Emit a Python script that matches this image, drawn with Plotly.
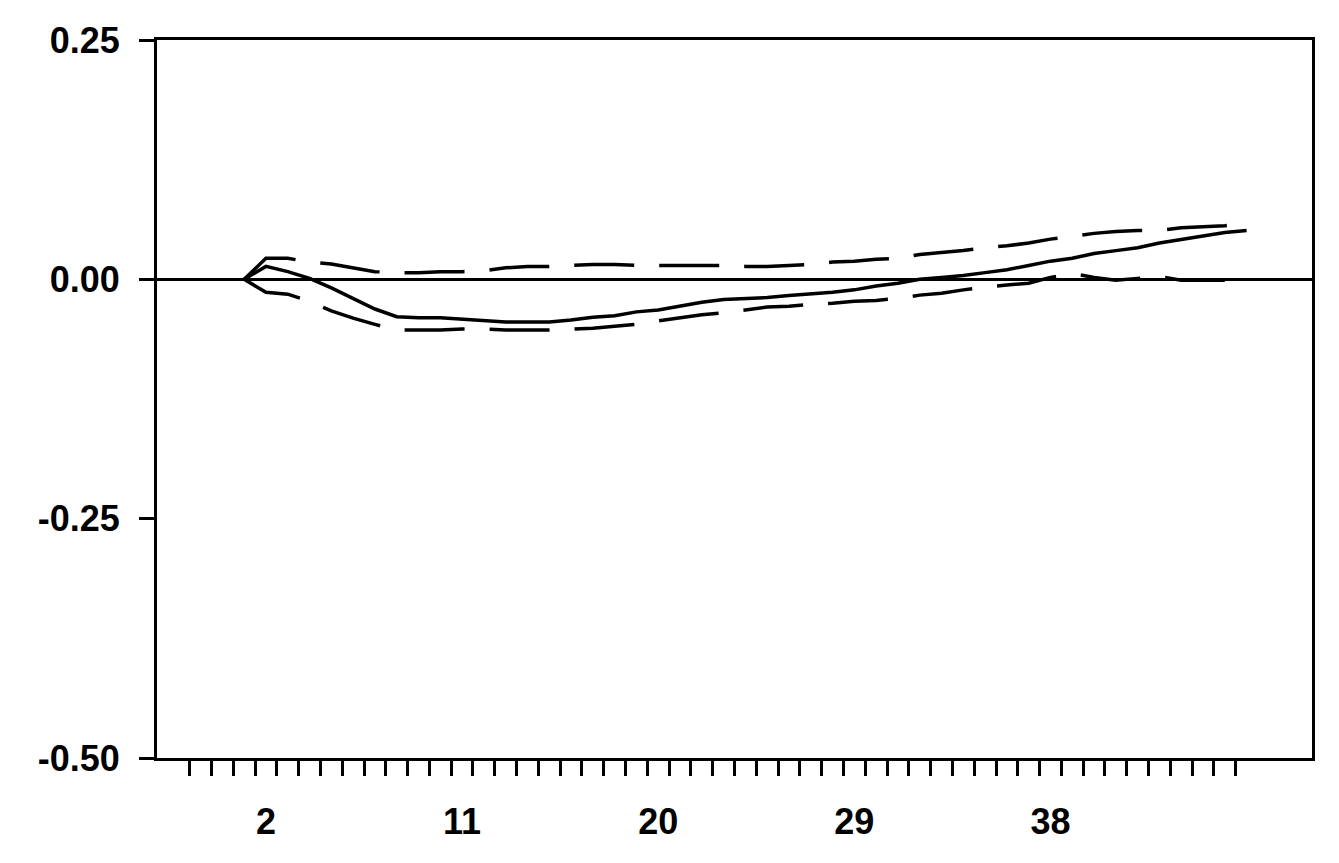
import plotly.graph_objects as go

periods = list(range(1, 48))

upper = [0.000, 0.022, 0.022, 0.018, 0.016, 0.012, 0.008, 0.007, 0.007, 0.008,
         0.008, 0.009, 0.012, 0.0135, 0.0135, 0.0145, 0.0155, 0.0155, 0.0145, 0.0145,
         0.0145, 0.0145, 0.0145, 0.0135, 0.0135, 0.0145, 0.0155, 0.018, 0.019, 0.021,
         0.022, 0.026, 0.028, 0.030, 0.033, 0.035, 0.038, 0.042, 0.045, 0.048,
         0.050, 0.051, 0.051, 0.054, 0.055, 0.056, 0.058]

response = [0.000, 0.0135, 0.008, 0.001, -0.009, -0.020, -0.031, -0.039, -0.040, -0.040,
            -0.0415, -0.0425, -0.0445, -0.0445, -0.0445, -0.0425, -0.0395, -0.038, -0.034, -0.032,
            -0.028, -0.024, -0.021, -0.020, -0.019, -0.017, -0.0155, -0.0135, -0.011, -0.007,
            -0.004, 0.000, 0.002, 0.004, 0.007, 0.010, 0.0145, 0.019, 0.022, 0.027,
            0.030, 0.033, 0.038, 0.0415, 0.0455, 0.049, 0.051]

lower = [0.000, -0.0135, -0.0155, -0.023, -0.033, -0.0405, -0.047, -0.053, -0.053, -0.053,
         -0.052, -0.052, -0.053, -0.053, -0.053, -0.052, -0.051, -0.049, -0.047, -0.0435,
         -0.0405, -0.037, -0.035, -0.032, -0.029, -0.028, -0.026, -0.025, -0.023, -0.022,
         -0.020, -0.0165, -0.0145, -0.011, -0.008, -0.006, -0.004, 0.002, 0.006, 0.002,
         -0.001, 0.001, 0.003, -0.001, -0.001, -0.001, -0.001]

x_labels = [2, 11, 20, 29, 38]
y_ticks = [-0.50, -0.25, 0.00, 0.25]
y_labels = ["-0.50", "-0.25", "0.00", "0.25"]
# small ticks sit between the periods
x_minor = [p - 0.5 for p in range(-1, 48)]

fig = go.Figure()
fig.add_trace(go.Scatter(x=periods, y=upper, mode="lines",
                         line=dict(color="black", width=3.5, dash="60px,25px")))
fig.add_trace(go.Scatter(x=periods, y=response, mode="lines",
                         line=dict(color="black", width=3.5)))
fig.add_trace(go.Scatter(x=periods, y=lower, mode="lines",
                         line=dict(color="black", width=3.5, dash="60px,25px")))

tick_font = dict(family="Liberation Sans, Arial", size=36, color="black", weight="bold")

fig.update_layout(
    width=1339, height=863,
    margin=dict(l=149, r=35, t=28, b=113),
    paper_bgcolor="white", plot_bgcolor="white",
    showlegend=False,
    xaxis=dict(range=[-3, 50], tickmode="array", tickvals=x_labels,
               ticktext=[str(v) for v in x_labels], ticks="", ticklabelstandoff=30,
               showgrid=False, zeroline=False, showline=True, linecolor="black",
               linewidth=3, mirror=True, tickfont=tick_font,
               minor=dict(tickmode="array", tickvals=x_minor, ticks="outside",
                          ticklen=15, tickwidth=3, tickcolor="black", showgrid=False)),
    yaxis=dict(range=[-0.5, 0.25], tickmode="array", tickvals=y_ticks, ticktext=y_labels,
               ticks="outside", ticklen=15, tickwidth=3, tickcolor="black",
               ticklabelstandoff=12, showgrid=False, zeroline=True, zerolinecolor="black",
               zerolinewidth=2.5, showline=True, linecolor="black", linewidth=3,
               mirror=True, tickfont=tick_font),
)

fig.write_html("out.html")
